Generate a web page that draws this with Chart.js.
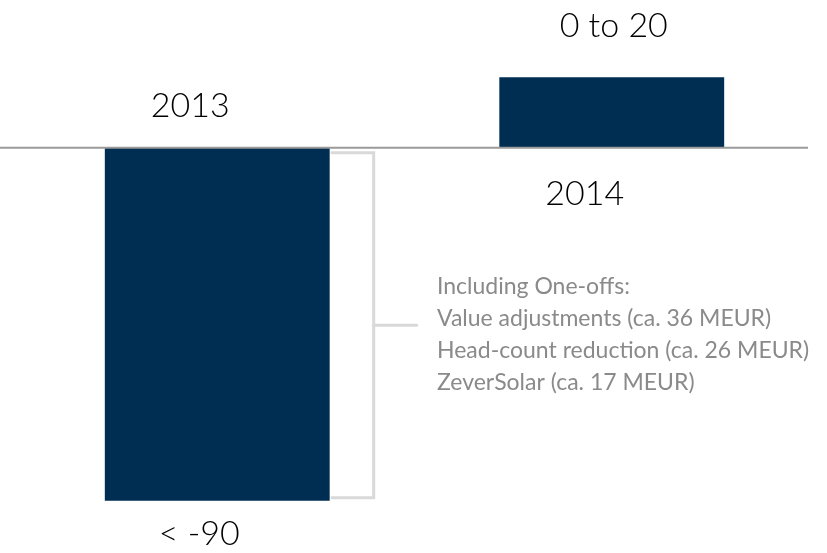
<!DOCTYPE html>
<html><head><meta charset="utf-8">
<script src="https://cdn.jsdelivr.net/npm/chart.js@4"></script>
<style>html,body{margin:0;padding:0;background:#fff;}#wrap{width:827px;height:553px;}</style>
</head><body><div id="wrap"><canvas id="c" width="827" height="553"></canvas></div>
<script>
const categories = ["2013", "2014"];
const values = [-90, 18];
const valueLabels = ["< -90", "0 to 20"];
const noteLines = ["Including One-offs:", "Value adjustments (ca. 36 MEUR)", "Head-count reduction (ca. 26 MEUR)", "ZeverSolar (ca. 17 MEUR)"];

const FONT = "Lato, 'Open Sans', sans-serif";

const overlay = {
  id: 'overlay',
  afterDatasetsDraw(chart) {
    const ctx = chart.ctx;
    const y = chart.scales.y;
    const y0 = y.getPixelForValue(0);
    const meta = chart.getDatasetMeta(0);
    ctx.save();
    // baseline
    ctx.strokeStyle = '#9a9a9a';
    ctx.lineWidth = 2;
    ctx.beginPath(); ctx.moveTo(0, y0); ctx.lineTo(808, y0); ctx.stroke();
    // labels
    ctx.fillStyle = '#000';
    ctx.font = '300 34px ' + FONT;
    ctx.textAlign = 'center';
    ctx.textBaseline = 'alphabetic';
    const b0 = meta.data[0], b1 = meta.data[1];
    ctx.fillText(categories[0], b0.x - 27, y0 - 31);
    ctx.fillText(categories[1], b1.x - 27, y0 + 57);
    ctx.fillText(valueLabels[0], b0.x - 18, b0.y + 44);
    ctx.fillText(valueLabels[1], b1.x + 2, b1.y - 40);
    // bracket
    const right = b0.x + b0.width / 2;
    const top = y0 + 5, bot = b0.y - 3;
    const bx = right + 44;
    ctx.strokeStyle = '#d9d9d9';
    ctx.lineWidth = 3;
    ctx.beginPath();
    ctx.moveTo(right + 1, top); ctx.lineTo(bx, top); ctx.lineTo(bx, bot); ctx.lineTo(right + 1, bot);
    ctx.stroke();
    const mid = (top + bot) / 2;
    ctx.lineCap = 'round';
    ctx.beginPath(); ctx.moveTo(bx, mid); ctx.lineTo(bx + 43, mid); ctx.stroke();
    // note
    ctx.fillStyle = '#8a8a8a';
    ctx.font = '400 23px ' + FONT;
    ctx.textAlign = 'left';
    noteLines.forEach((t, i) => ctx.fillText(t, 437, 294 + i * 32));
    ctx.restore();
  }
};

new Chart(document.getElementById('c'), {
  type: 'bar',
  data: {
    labels: categories,
    datasets: [{ data: values, backgroundColor: '#002d52', borderWidth: 0,
      categoryPercentage: 1, barPercentage: 0.57 }]
  },
  options: {
    responsive: false, animation: false,
    layout: { padding: { left: 20, right: 18, top: 0, bottom: 0 } },
    plugins: { legend: { display: false }, tooltip: { enabled: false } },
    scales: {
      x: { display: false },
      y: { display: false, min: -103.3, max: 37.7 }
    }
  },
  plugins: [overlay]
});
</script></body></html>
